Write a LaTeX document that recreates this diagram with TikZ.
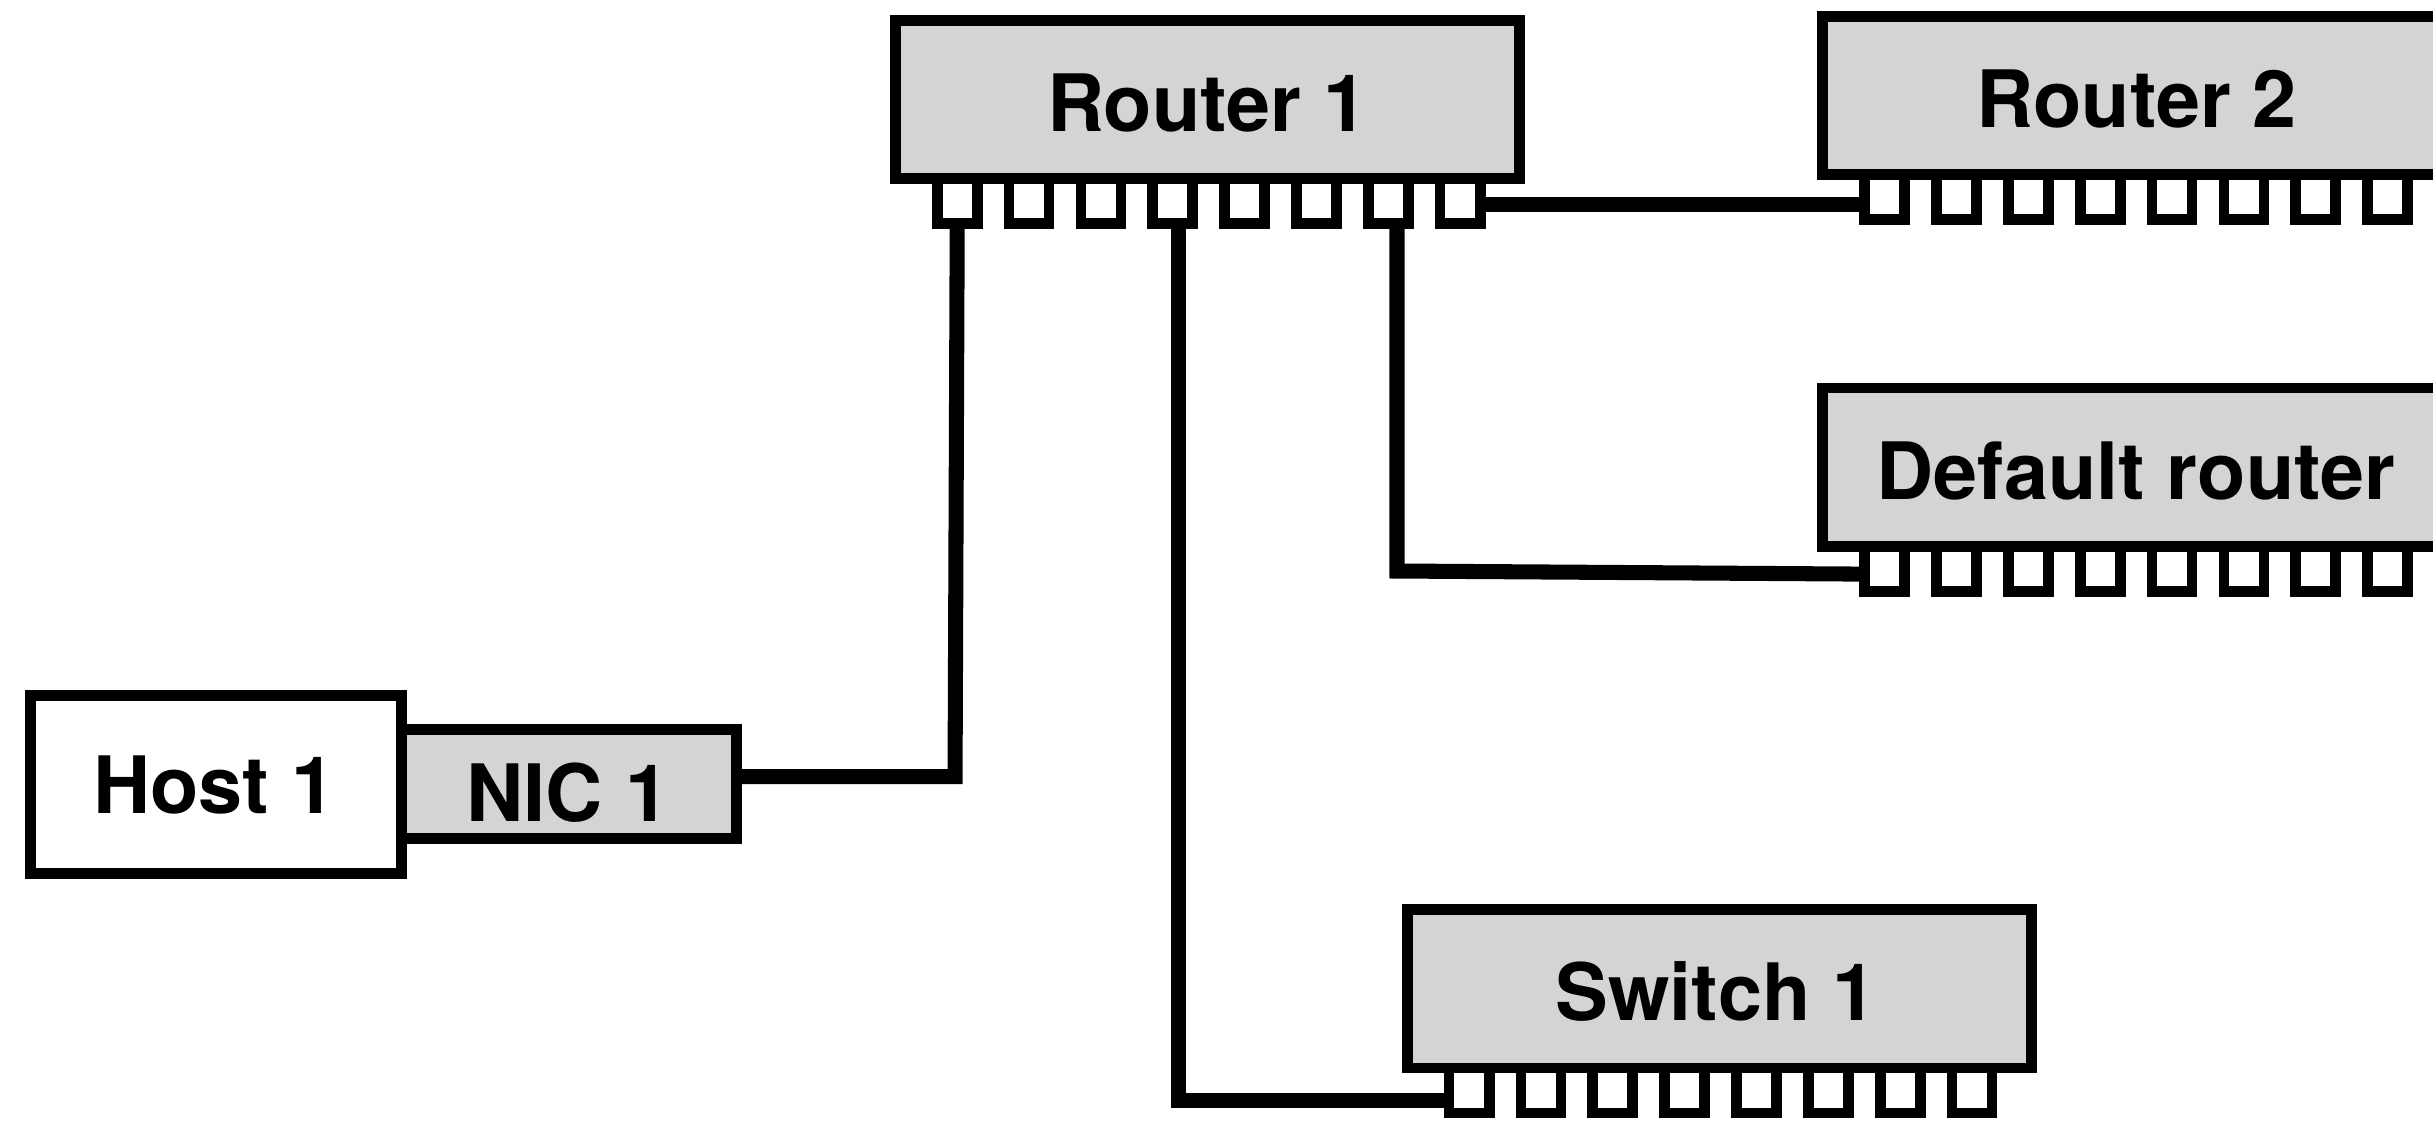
\documentclass[tikz,border=0pt]{standalone}
\usepackage{fontspec}
\setmainfont{TeX Gyre Heros}
\definecolor{boxgray}{HTML}{D4D4D4}
\tikzset{
  devbox/.style={draw=black, fill=boxgray, line width=6.9pt, minimum width=402.3pt, minimum height=102.1pt, inner sep=0pt, outer sep=0pt},
  portbox/.style={draw=black, fill=white, line width=6.9pt, minimum width=25.8pt, minimum height=29pt, inner sep=0pt, outer sep=0pt},
  hostbox/.style={draw=black, fill=white, line width=6.9pt, minimum width=238.8pt, minimum height=114.9pt, inner sep=0pt, outer sep=0pt},
  nicbox/.style={draw=black, fill=boxgray, line width=6.9pt, minimum width=216pt, minimum height=70.3pt, inner sep=0pt, outer sep=0pt},
  lbl/.style={anchor=base, inner sep=0pt, outer sep=0pt, font=\fontsize{51}{60}\selectfont\bfseries},
  wire/.style={draw=black, line width=9.7pt, line join=miter, line cap=butt},
}
\newcommand{\mkdevice}[3]{%
  \foreach \k in {1,...,8}{
    \node[portbox] (#1p\k) at ({#2+43.3+46.3*(\k-1)}, {#3+120.05}) {};
  }
  \node[devbox] (#1) at ({#2+204.6}, {#3+54.5}) {};
}
\begin{document}
\begin{tikzpicture}[x=1pt, y=-1pt]
  \useasboundingbox (0,0) rectangle (1568,722);
  \clip (0,0) rectangle (1568,722);
  % devices
  \mkdevice{r1}{573.6}{9.7}
  \mkdevice{r2}{1171.3}{7}
  \mkdevice{dr}{1171.3}{246.6}
  \mkdevice{sw}{903.5}{582.8}
  \node[hostbox] (host) at (139.15,505.6) {};
  \node[nicbox] (nic) at (366.55,505.4) {};
  % labels
  \node[lbl] (r1t) at (778,84.9) {Router 1};
  \node[lbl] (r2t) at (1377,82.3) {Router 2};
  \node[lbl] (drt) at (1376.5,322.2) {Default router};
  \node[lbl] (swt) at (1106,657.4) {Switch 1};
  \node[lbl] (hostt) at (138,524.2) {Host 1};
  \node[lbl] (nict) at (366,529.5) {NIC 1};
  % bends
  \coordinate (b1) at (615.5,500.5);
  \coordinate (b2) at (759.5,709);
  \coordinate (b3) at (900.3,368);
  \coordinate (e3) at (0,370);
  \coordinate (e4) at (0,131.6);
  % wires
  \draw[wire] (nic.east |- b1) -- (b1) -- (r1p1.south);
  \draw[wire] (r1p4.south -| b2) -- (b2) -- (swp1.west |- b2);
  \draw[wire] (r1p7.south -| b3) -- (b3) -- (drp1.west |- e3);
  \draw[wire] (r1p8.east |- e4) -- (r2p1.west |- e4);
\end{tikzpicture}
\end{document}
